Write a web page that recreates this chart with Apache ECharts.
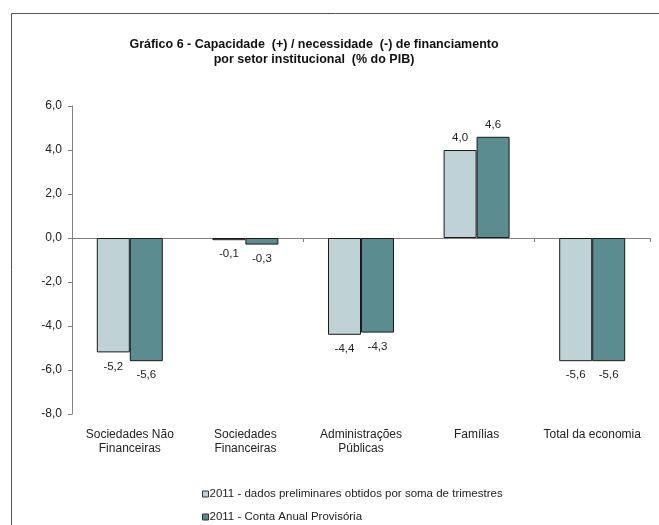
<!DOCTYPE html>
<html>
<head>
<meta charset="utf-8">
<script src="https://cdn.jsdelivr.net/npm/echarts@6/dist/echarts.min.js"></script>
<style>
  html, body { margin: 0; padding: 0; background: #fff; }
  #container_chart { width: 659px; height: 525px; }
</style>
</head>
<body>
<div id="container_chart"></div>
<script>
const categories = ['Sociedades Não\nFinanceiras', 'Sociedades\nFinanceiras', 'Administrações\nPúblicas', 'Famílias', 'Total da economia'];
const seriesNames = ['2011 - dados preliminares obtidos por soma de trimestres', '2011 - Conta Anual Provisória'];
const preliminares = [-5.2, -0.1, -4.4, 4.0, -5.6];
const contaAnual = [-5.6, -0.3, -4.3, 4.6, -5.6];
const yTicks = [-8, -6, -4, -2, 0, 2, 4, 6];

const fmt = v => v.toFixed(1).replace('.', ',');
const font = 'Liberation Sans, Arial, sans-serif';

const series = [preliminares, contaAnual].map((vals, sid) => {
    return {
        name: seriesNames[sid],
        type: 'bar',
        xAxisIndex: 0,
        barWidth: 33,
        barGap: '0%',
        itemStyle: { borderColor: '#1a1a1a', borderWidth: 1 },
        data: vals.map(v => ({
            value: v,
            label: { position: v < 0 ? 'bottom' : 'top', distance: v < 0 ? 8 : 6 }
        })),
        label: {
            show: true,
            fontFamily: font,
            fontSize: 11.5,
            color: '#222',
            formatter: p => fmt(p.value)
        }
    };
});

// one legend per series, stacked
const legends = seriesNames.map((name, i) => ({
    left: 197,
    top: 483 + i * 23,
    itemWidth: 6,
    itemHeight: 6,
    icon: 'rect',
    itemStyle: { borderColor: '#333', borderWidth: 1 },
    textStyle: { fontFamily: font, fontSize: 11.5, color: '#222', padding: [0, 0, 0, -4] },
    data: [name]
}));

let chart = echarts.init(document.getElementById('container_chart'));
chart.setOption({
    animation: false,
    color: ['#BFD3D6', '#5A8C90'],
    title: {
        text: 'Gráfico 6 - Capacidade  (+) / necessidade  (-) de financiamento\npor setor institucional  (% do PIB)',
        left: 309,
        top: 32,
        textAlign: 'center',
        textStyle: { fontFamily: font, fontSize: 12.5, fontWeight: 'bold', color: '#111', lineHeight: 15 }
    },
    graphic: [{
        type: 'rect',
        shape: { x: 11.5, y: 13.5, width: 700, height: 600 },
        style: { fill: 'none', stroke: '#555', lineWidth: 1 },
        silent: true
    }],
    legend: legends,
    grid: { left: 72, right: 9, top: 106, bottom: 111 },
    xAxis: [{
        type: 'category',
        data: categories,
        axisLine: { onZero: true, lineStyle: { color: '#808080' } },
        axisTick: { show: true, length: 4, lineStyle: { color: '#808080' } },
        axisLabel: { show: false }
    }, {
        type: 'category',
        data: categories,
        position: 'bottom',
        axisLine: { show: false, onZero: false },
        axisTick: { show: false },
        axisLabel: { fontFamily: font, fontSize: 12, color: '#222', margin: 14, lineHeight: 14, interval: 0 }
    }],
    yAxis: {
        type: 'value',
        min: yTicks[0],
        max: yTicks[yTicks.length - 1],
        interval: 2,
        splitLine: { show: false },
        axisLine: { show: true, lineStyle: { color: '#808080' } },
        axisTick: { show: true, length: 4, lineStyle: { color: '#808080' } },
        axisLabel: { fontFamily: font, fontSize: 12, color: '#222', margin: 10, formatter: v => fmt(v) }
    },
    series
});
</script>
</body>
</html>
